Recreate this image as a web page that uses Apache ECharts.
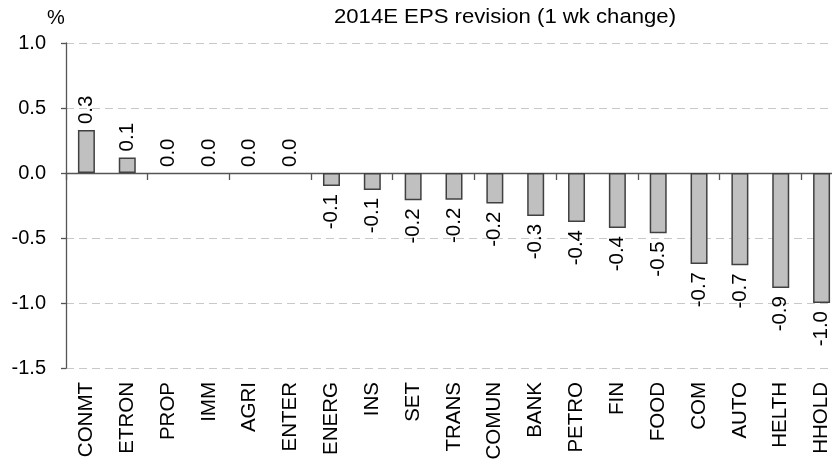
<!DOCTYPE html>
<html>
<head>
<meta charset="utf-8">
<script src="https://cdn.jsdelivr.net/npm/echarts@6/dist/echarts.min.js"></script>
<style>html,body{margin:0;padding:0;background:#fff;overflow:hidden}#c{width:842px;height:470px}</style>
</head>
<body>
<div id="c"></div>
<script>
const categories = ['CONMT','ETRON','PROP','IMM','AGRI','ENTER','ENERG','INS','SET','TRANS','COMUN','BANK','PETRO','FIN','FOOD','COM','AUTO','HELTH','HHOLD'];
const values = [0.33,0.12,0.0,0.0,0.0,0.0,-0.10,-0.13,-0.21,-0.205,-0.235,-0.33,-0.377,-0.423,-0.464,-0.70,-0.71,-0.885,-1.0];
const yTicks = [-1.5,-1.0,-0.5,0.0,0.5,1.0];
const titleText = '2014E EPS revision (1 wk change)';
const unitText = '%';

const FONT = 'Liberation Sans, Arial, sans-serif';
const chart = echarts.init(document.getElementById('c'), null, {renderer:'canvas'});
const data = values.map(v => ({
  value: v,
  itemStyle: v === 0 ? {borderWidth:0} : undefined,
  label: v >= 0
    ? {position:'top', align:'left', verticalAlign:'middle', distance:6}
    : {position:'bottom', align:'right', verticalAlign:'middle', distance:8}
}));
chart.setOption({
  animation:false,
  backgroundColor:'#fff',
  graphic:[
    {type:'text', left:47, top:8, style:{text:unitText, font:'20px '+FONT, fill:'#000'}},
    {type:'text', x:505, y:7, scaleX:1.08, style:{text:titleText, font:'20.5px '+FONT, fill:'#000', align:'center', verticalAlign:'top'}}
  ],
  grid:{left:66, right:0, top:43, bottom:102, containLabel:false},
  xAxis:[
    {type:'category', data:categories, position:'bottom',
     axisLine:{onZero:true, lineStyle:{color:'#555', width:1.3}},
     axisTick:{show:true, alignWithLabel:false, length:7, lineStyle:{color:'#555', width:1.3}},
     axisLabel:{show:false}, splitLine:{show:false}},
    {type:'category', data:categories, position:'bottom',
     axisLine:{show:false, onZero:false}, axisTick:{show:false},
     axisLabel:{show:true, rotate:90, margin:14, interval:0, fontFamily:FONT, fontSize:20.5, color:'#000'},
     splitLine:{show:false}}
  ],
  yAxis:{type:'value', min:-1.5, max:1.0, interval:0.5,
    axisLine:{show:true, lineStyle:{color:'#555', width:1.3}},
    axisTick:{show:true, length:5, lineStyle:{color:'#555', width:1.3}},
    axisLabel:{margin:20, fontFamily:FONT, fontSize:20, color:'#000',
      formatter: v => yTicks.includes(Math.round(v*10)/10) ? (Math.round(v*10)/10).toFixed(1) : ''},
    splitLine:{show:true, lineStyle:{color:'#c8c8c8', type:[8,5], width:1.2}}
  },
  series:[{
    type:'bar', xAxisIndex:0, data:data, barWidth:17,
    itemStyle:{color:'#c0c0c0', borderColor:'#404040', borderWidth:1.5},
    label:{show:true, rotate:90, fontFamily:FONT, fontSize:20.5, color:'#000',
      formatter: p => p.value.toFixed(1)}
  }]
});
</script>
</body>
</html>
